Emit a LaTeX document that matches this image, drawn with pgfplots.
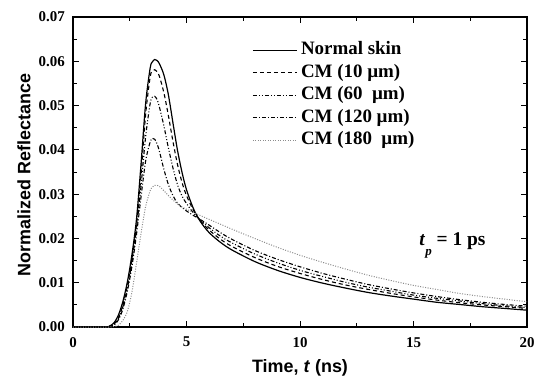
\documentclass[border=0pt]{standalone}
\usepackage{pgfplots}
\pgfplotsset{compat=1.18}
\usepackage{pgfplotstable}
\usepackage{fontspec}
\setmainfont{Liberation Serif}
\newfontfamily\arialf{Liberation Sans}

\pgfplotstableread{
t     N       C10     C60     C120    C180
0     0       0       0       0       0
1.4   0       0       0       0       0
1.6   0.0002  0.0001  0.0001  0.0001  0
1.8   0.0009  0.0006  0.0005  0.0004  0.0001
2.0   0.0027  0.0021  0.0019  0.0016  0.0004
2.2   0.0058  0.0050  0.0046  0.0041  0.0015
2.4   0.0103  0.0094  0.0089  0.0082  0.0036
2.6   0.0165  0.0154  0.0148  0.0138  0.0080
2.8   0.0245  0.0232  0.0224  0.0210  0.0145
3.0   0.0370  0.0345  0.0320  0.0295  0.0212
3.2   0.0505  0.0480  0.0430  0.0375  0.0272
3.4   0.0585  0.0565  0.0505  0.0418  0.0308
3.5   0.0599  0.0578  0.0519  0.0426  0.0316
3.6   0.0604  0.0581  0.0521  0.0424  0.0320
3.7   0.0602  0.0577  0.0514  0.0414  0.0320
3.8   0.0595  0.0567  0.0498  0.0398  0.0318
4.0   0.0570  0.0530  0.0455  0.0357  0.0308
4.2   0.0525  0.0478  0.0405  0.0322  0.0297
4.4   0.0462  0.0420  0.0360  0.0297  0.0287
4.6   0.0400  0.0368  0.0322  0.0280  0.0278
4.8   0.0350  0.0327  0.0296  0.0270  0.0271
5.0   0.0310  0.0297  0.0279  0.0262  0.0266
5.3   0.0268  0.0264  0.0258  0.0252  0.0259
5.6   0.0239  0.0241  0.0242  0.0243  0.0252
6.0   0.0213  0.0219  0.0224  0.0230  0.0243
6.5   0.0191  0.0198  0.0205  0.0213  0.0232
7.0   0.0174  0.0182  0.0190  0.0198  0.0221
8.0   0.0148  0.0157  0.0165  0.0173  0.0200
9.0   0.0128  0.0137  0.0145  0.0153  0.0180
10    0.0112  0.0121  0.0128  0.0136  0.0162
11    0.0099  0.0107  0.0114  0.0121  0.0146
12    0.0088  0.0095  0.0101  0.0108  0.0131
13    0.0078  0.0085  0.0090  0.0096  0.0117
14    0.0070  0.0076  0.0081  0.0086  0.0105
15    0.0063  0.0068  0.0072  0.0077  0.0094
16    0.0056  0.0061  0.0065  0.0069  0.0085
17    0.0051  0.0055  0.0059  0.0062  0.0076
18    0.0046  0.0050  0.0053  0.0056  0.0069
19    0.0042  0.0046  0.0048  0.0051  0.0063
20    0.0038  0.0042  0.0044  0.0047  0.0057
}\datatable

\begin{document}
\begin{tikzpicture}
\useasboundingbox (-73bp,-50bp) rectangle (477bp,327bp);
\begin{axis}[
  at={(0,0)}, anchor=south west,
  scale only axis, width=454bp, height=310bp,
  xmin=0, xmax=20, ymin=0, ymax=0.07,
  xtick={0,5,10,15,20}, minor x tick num=1,
  ytick={0,0.01,...,0.07}, minor y tick num=1,
  tick align=inside,
  major tick length=6bp, minor tick length=4bp,
  axis line style={line width=1.1bp},
  every tick/.style={line width=0.9bp, black},
  /pgf/number format/assume math mode=true,
  scaled y ticks=false,
  yticklabel style={/pgf/number format/fixed, /pgf/number format/fixed zerofill, /pgf/number format/precision=2, inner sep=0pt, xshift=-8bp},
  xticklabel style={inner sep=0pt, yshift=-10bp},
  tick label style={font=\fontsize{15}{16}\selectfont\bfseries},
  xlabel={Time, \textit{t} (ns)},
  ylabel={Normalized Reflectance},
  xlabel style={font=\arialf\fontsize{18}{20}\selectfont\bfseries, at={(axis description cs:0.5,-0.148)}, anchor=base},
  ylabel style={font=\arialf\fontsize{18}{20}\selectfont\bfseries, at={(axis description cs:-0.108,0.49)}, anchor=center},
  legend style={draw=none, fill=none, at={(axis description cs:0.388,0.93)}, anchor=north west,
    font=\fontsize{19}{21}\selectfont\bfseries,
    nodes={inner sep=0.5bp, text height=13.5bp, text depth=4.5bp},
    row sep=3.5bp,
    /tikz/every odd column/.append style={column sep=3bp}},
  legend cell align=left,
  legend image code/.code={\draw[#1] (0bp,0bp) -- (44bp,0bp);},
]
\addplot[black, line width=1.2bp, smooth] table[x=t,y=N] {\datatable};
\addlegendentry{Normal skin}
\addplot[black, line width=1.1bp, dash pattern=on 4bp off 3bp, smooth] table[x=t,y=C10] {\datatable};
\addlegendentry{CM (10 µm)}
\addplot[black, line width=1.1bp, dash pattern=on 4bp off 2bp on 1bp off 2bp on 1bp off 2bp, smooth] table[x=t,y=C60] {\datatable};
\addlegendentry{CM (60\ \ µm)}
\addplot[black, line width=1.1bp, dash pattern=on 4bp off 2bp on 1bp off 2bp, smooth] table[x=t,y=C120] {\datatable};
\addlegendentry{CM (120 µm)}
\addplot[black!45, line width=1bp, dash pattern=on 1bp off 1.5bp, smooth] table[x=t,y=C180] {\datatable};
\addlegendentry{CM (180\ \ µm)}
\node[anchor=west, font=\fontsize{19.5}{21}\selectfont\bfseries, inner sep=0pt] at (axis cs:15.25,0.0184) {\textit{t}\raisebox{-1.2ex}{\fontsize{13}{14}\selectfont\textit{p}} = 1 ps};
\end{axis}
\end{tikzpicture}
\end{document}
